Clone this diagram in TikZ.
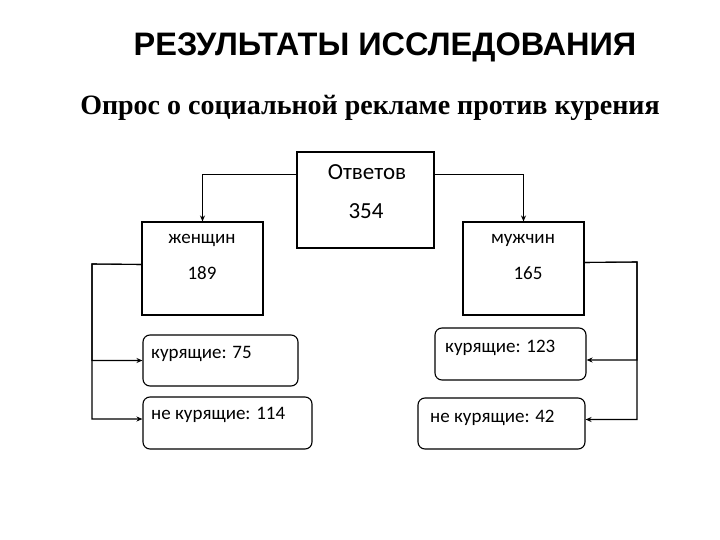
\documentclass[tikz,border=0pt]{standalone}
\usepackage{fontspec}
\setmainfont{Carlito}
\newfontfamily\titlefont{Liberation Sans}
\newfontfamily\subfont{Liberation Serif}
\usetikzlibrary{arrows.meta}
\begin{document}
\begin{tikzpicture}[x=1pt,y=-1pt,
  box/.style={draw,line width=1.1pt,inner sep=0pt},
  rbox/.style={draw,line width=1.1pt,inner sep=0pt,rounded corners=7pt},
  txt/.style={inner sep=0pt,font=\fontsize{19}{22}\selectfont},
  bigtxt/.style={inner sep=0pt,font=\fontsize{23}{26}\selectfont},
  conn/.style={line width=1.1pt,-{Stealth[length=6pt,width=5pt]}}]
\useasboundingbox (0,0) rectangle (720,540);
\node[inner sep=0pt,font=\titlefont\bfseries\fontsize{32.5}{36}\selectfont] (title) at (385,47) {РЕЗУЛЬТАТЫ ИССЛЕДОВАНИЯ};
\node[inner sep=0pt,font=\subfont\bfseries\fontsize{28}{32}\selectfont] (sub) at (370,108) {Опрос о социальной рекламе против курения};
% boxes
\node[box,minimum width=137pt,minimum height=96pt] (otv) at (365.5,200) {};
\node[box,minimum width=121pt,minimum height=93pt] (zh) at (202.5,268.5) {};
\node[box,minimum width=121pt,minimum height=93pt] (mu) at (523.5,268.5) {};
\node[rbox,minimum width=155pt,minimum height=51pt] (k1) at (220.5,360.5) {};
\node[rbox,minimum width=169pt,minimum height=52pt] (n1) at (227.5,423) {};
\node[rbox,minimum width=151pt,minimum height=52pt] (k2) at (510.5,354) {};
\node[rbox,minimum width=167pt,minimum height=51pt] (n2) at (501.5,423.5) {};
% texts
\node[bigtxt] (t1) at (367,172) {Ответов};
\node[bigtxt] (t2) at (366,211) {354};
\node[txt] (t3) at (202,240) {женщин};
\node[txt] (t4) at (202,273) {189};
\node[txt] (t5) at (523,240) {мужчин};
\node[txt] (t6) at (528,273) {165};
\node[txt,anchor=west] (t7) at (151,354) {курящие: 75};
\node[txt,anchor=west] (t8) at (151,415) {не курящие: 114};
\node[txt,anchor=west] (t9) at (445,348) {курящие: 123};
\node[txt,anchor=west] (t10) at (430,418) {не курящие: 42};
% connectors
\draw[conn] ([yshift=-23pt]otv.north west) -| (zh.north);
\draw[conn] ([yshift=-23pt]otv.north east) -| (mu.north);
\draw[conn] ([yshift=4pt]zh.west) -- (92,264) |- (k1.west);
\draw[conn] ([yshift=4pt]zh.west) -- (92,264) |- ([yshift=4pt]n1.west);
\draw[conn] ([yshift=6pt]mu.east) -- (637,262) |- ([yshift=-6pt]k2.east);
\draw[conn] ([yshift=6pt]mu.east) -- (637,262) |- ([yshift=4pt]n2.east);
\end{tikzpicture}
\end{document}
